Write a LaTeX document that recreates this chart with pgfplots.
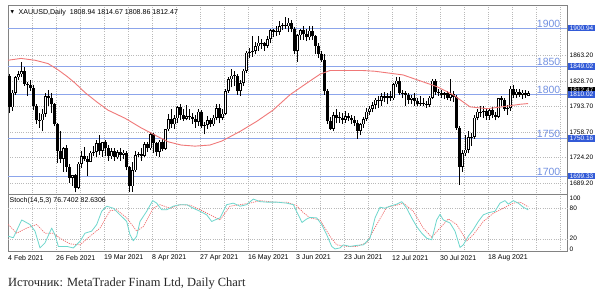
\documentclass[border=0pt]{standalone}
\usepackage{pgfplots}
\pgfplotsset{compat=1.18}
\usepackage{pgfplotstable}
\usetikzlibrary{backgrounds}
\usepackage{fontspec}
\setmainfont{Liberation Sans}
\newfontfamily\seriffont{Liberation Serif}
\newfontfamily\symfont{DejaVu Sans}
\newcommand\fs[1]{\fontsize{#1}{#1}\selectfont}
\definecolor{hblue}{RGB}{140,165,235}
\definecolor{lblue}{RGB}{115,145,225}
\definecolor{boxblue}{RGB}{50,90,215}
\definecolor{gridc}{RGB}{185,185,185}
\definecolor{framec}{RGB}{130,130,130}
\definecolor{mared}{RGB}{240,120,120}
\definecolor{stk}{RGB}{110,215,205}
\definecolor{std}{RGB}{240,110,110}

\pgfplotstableread{
i O H L C
0 1835 1838 1785 1793
1 1793 1816 1788 1813
2 1813 1836 1810 1834
3 1834 1843 1830 1838
4 1838 1855 1834 1842
5 1842 1848 1822 1825
6 1825 1828 1808 1823
7 1823 1830 1815 1819
8 1819 1823 1789 1795
9 1795 1798 1770 1775
10 1775 1785 1765 1775.5
11 1775 1790 1760 1784
12 1784 1813 1780 1808
13 1808 1816 1795 1806
14 1806 1812 1785 1797
15 1797 1799 1767 1770
16 1770 1772 1717 1733
17 1733 1760 1717 1723
18 1723 1739 1705 1737
19 1737 1741 1705 1712
20 1712 1716 1690 1697
21 1697 1701 1686 1700
22 1700 1702 1677 1683
23 1683 1718 1681 1716
24 1716 1733 1710 1726
25 1726 1739 1720 1722
26 1722 1727 1699 1719
27 1719 1734 1718 1731
28 1731 1740 1727 1732
29 1732 1748 1725 1744
30 1744 1755 1728 1734
31 1734 1746 1725 1745
32 1745 1748 1726 1737
33 1737 1742 1720 1726
34 1726 1738 1723 1733
35 1733 1737 1720 1725
36 1725 1735 1722 1732
37 1732 1738 1720 1728
38 1728 1735 1722 1731
39 1731 1734 1707 1711
40 1711 1713 1677 1685
41 1685 1718 1678 1707
42 1707 1733 1705 1728
43 1728 1732 1725 1729
44 1729 1738 1720 1727
45 1727 1746 1725 1743
46 1743 1745 1732 1737
47 1737 1759 1735 1756
48 1756 1758 1730 1744
49 1744 1746 1727 1732
50 1732 1748 1725 1746
51 1746 1750 1733 1736
52 1736 1764 1735 1763
53 1763 1784 1760 1777
54 1777 1790 1765 1770
55 1770 1783 1764 1778
56 1778 1794 1771 1793
57 1793 1798 1776 1783
58 1783 1790 1774 1777
59 1777 1796 1775 1781
60 1781 1790 1776 1780
61 1780 1785 1770 1777
62 1777 1783 1765 1773
63 1773 1790 1768 1787
64 1787 1789 1765 1768
65 1768 1773 1756 1769
66 1769 1781 1764 1775
67 1775 1779 1766 1770
68 1770 1782 1768 1779
69 1779 1798 1775 1792
70 1792 1798 1771 1779
71 1779 1790 1775 1784
72 1784 1818 1782 1815
73 1815 1834 1813 1831
74 1831 1845 1820 1836
75 1836 1843 1822 1836.5
76 1836 1838 1810 1815
77 1815 1830 1808 1826
78 1826 1845 1822 1843
79 1843 1869 1840 1867
80 1867 1874 1860 1868
81 1868 1890 1862 1870
82 1870 1882 1865 1876
83 1876 1890 1870 1881
84 1881 1886 1872 1880
85 1880 1882 1870 1877
86 1877 1890 1874 1886
87 1886 1900 1880 1898
88 1898 1900 1888 1896
89 1896 1903 1890 1896.5
90 1896 1910 1892 1903
91 1903 1908 1898 1905
92 1905 1916 1900 1903
93 1903 1914 1896 1908
94 1908 1912 1895 1900
95 1900 1902 1865 1870
96 1870 1893 1855 1891
97 1891 1900 1885 1898
98 1898 1903 1885 1893
99 1893 1900 1883 1888
100 1888 1903 1884 1897
101 1897 1903 1885 1890
102 1890 1892 1866 1877
103 1877 1880 1860 1866
104 1866 1870 1855 1858
105 1858 1865 1810 1815
106 1815 1818 1770 1774
107 1774 1780 1762 1764
108 1764 1786 1760 1782
109 1782 1790 1771 1779
110 1779 1787 1772 1779.5
111 1779 1785 1770 1776
112 1776 1788 1772 1781
113 1781 1785 1774 1779
114 1779 1783 1770 1775
115 1775 1781 1768 1772
116 1772 1775 1750 1761
117 1761 1772 1755 1770
118 1770 1780 1765 1777
119 1777 1792 1774 1787
120 1787 1795 1783 1791
121 1791 1800 1786 1796
122 1796 1805 1790 1803
123 1803 1808 1792 1802
124 1802 1812 1795 1808
125 1808 1814 1800 1806
126 1806 1812 1797 1808
127 1808 1815 1802 1805
128 1805 1826 1803 1824
129 1824 1834 1820 1829
130 1829 1834 1810 1812
131 1812 1816 1805 1812.5
132 1812 1815 1795 1810
133 1810 1812 1797 1803
134 1803 1810 1798 1806
135 1806 1812 1795 1802
136 1802 1806 1794 1797
137 1797 1808 1795 1799
138 1799 1805 1794 1798
139 1798 1802 1792 1796
140 1796 1808 1793 1806
141 1806 1832 1804 1829
142 1829 1832 1810 1814
143 1814 1818 1808 1813
144 1813 1816 1805 1810
145 1810 1814 1804 1812
146 1812 1815 1803 1806
147 1806 1832 1802 1811
148 1811 1815 1800 1807
149 1807 1810 1762 1765
150 1765 1767 1687 1712
151 1712 1735 1705 1730
152 1730 1755 1726 1735
153 1735 1760 1730 1752
154 1752 1758 1740 1753
155 1753 1782 1750 1779
156 1779 1790 1775 1787
157 1787 1795 1780 1786
158 1786 1794 1778 1788
159 1788 1792 1776 1781
160 1781 1790 1776 1789
161 1789 1793 1778 1782
162 1782 1786 1775 1780
163 1780 1806 1778 1805
164 1805 1808 1795 1803
165 1803 1806 1788 1791
166 1791 1796 1783 1792
167 1792 1822 1788 1818
168 1818 1823 1805 1810
169 1810 1818 1806 1814
170 1814 1818 1807 1810
171 1810 1816 1804 1813
172 1813 1816 1806 1809
173 1808.94 1814.67 1808.86 1812.47
}\candles

\pgfplotstableread{
x y
8 1857
21 1859.5
35 1857
48 1852.5
58 1844
67 1835
75 1826
85 1813
97 1800
108 1789
125 1778
141 1765
155 1755
168 1746
181 1741.5
195 1740
210 1741.5
222 1747
240 1760
257 1774
273 1789
290 1810
307 1826
320 1838
330 1843
363 1843
375 1842
403 1837
437 1821
453 1810
470 1793.5
487 1791
503 1793.7
520 1797
528 1798
}\ma

\pgfplotstableread{
x y
8.3 25
13.3 22
21.7 57
30 48
35 35
40 2
45 12
51.7 41
55 28
58.3 5
66.7 5
73.3 2
80 15
85 31
91.7 35
96.7 48
101.7 74
106.7 84
113.3 80
120 67
126.7 54
130 28
133.3 16
136.7 25
140 54
146.7 74
152.7 95
156.7 90
161.7 77
166.7 77
173.3 84
180 87
186.7 87
193.3 80
200 74
206.7 67
211.7 54
215 57
220 61
226.7 87
233.3 90
240 84
246.7 87
253.3 98
260 93
266.7 92
276.7 92
286.7 90
293.3 87
298.3 67
302 52
306 58
310 62
316.7 61
321.7 48
326.7 28
331.7 5
335 0
340 2
343.3 8
350 5
356.7 7
363.3 8
370 21
375 61
380 82
385 80
390 84
396.7 88
401.7 93
406.7 80
411.7 61
416.7 44
421.7 31
426.7 21
431.7 18
436.7 57
440 68
443.3 57
450 51
455 35
460 3
463.3 8
468.3 25
473.3 38
478.3 54
483.3 67
488.3 71
495 74
500 90
505 95
508.3 88
513.3 95
518.3 90
523.3 82
528.3 76.74
}\stochk

\pgfplotstableread{
x y
8.3 48
16.7 31
26.7 41
36.7 48
45 31
53.3 31
60 21
70 10
80 8
90 25
100 41
110 75
116.7 77
126.7 61
136.7 35
143.3 44
153.3 80
160 87
170 80
180 87
190 86
200 77
213.3 64
220 57
230 84
240 87
250 90
260 95
273.3 92
286.7 92
296.7 85
303 72
310 61
320 57
330 25
336.7 8
346.7 5
356.7 5
366.7 12
376.7 48
386.7 82
396.7 86
403.3 90
413.3 74
423.3 41
431.7 23
440 41
448.3 59
456.7 48
466.7 16
473.3 28
483.3 54
493.3 70
503.3 80
513.3 90
520 92
528.3 82.63
}\stochd

\begin{document}
\begin{tikzpicture}

% ---------------- main price panel ----------------
\begin{axis}[
  name=main,
  at={(8bp,103bp)}, anchor=south west, scale only axis,
  width=559bp, height=189bp,
  xmin=8, xmax=567, ymin=1673.42, ymax=1930.91,
  xtick={8,32,...,560}, xticklabels={},
  ytick={1689.2,1724.2,1758.7,1793.7,1828.7,1863.2},
  yticklabels={1689.20,1724.20,1758.70,1793.70,1828.70,1863.20},
  yticklabel pos=right,
  yticklabel style={font=\fs{6.5}, anchor=west, inner sep=0pt, xshift=2.5bp},
  xmajorgrids, ymajorgrids,
  grid style={gridc, dash pattern=on 0.8bp off 1.4bp, line width=0.5bp},
  axis line style={framec, line width=1bp},
  tick style={draw=none},
  clip=false,
]
% horizontal level lines
\addplot[hblue, line width=0.8bp, forget plot] coordinates {(8,1900.94) (567,1900.94)};
\addplot[hblue, line width=0.8bp, forget plot] coordinates {(8,1849.02) (567,1849.02)};
\addplot[hblue, line width=0.8bp, forget plot] coordinates {(8,1810.02) (567,1810.02)};
\addplot[hblue, line width=0.8bp, forget plot] coordinates {(8,1750.16) (567,1750.16)};
\addplot[hblue, line width=0.8bp, forget plot] coordinates {(8,1699.33) (567,1699.33)};
% wicks
\addplot[draw=none, forget plot,
  error bars/.cd, y dir=plus, y explicit, error mark=none,
  error bar style={draw=black, line width=0.6bp}]
  table[x expr=9.5+3*\thisrow{i}, y=L, y error plus expr=\thisrow{H}-\thisrow{L}] {\candles};
% bodies (outline / bear fill)
\addplot[draw=none, forget plot,
  error bars/.cd, y dir=plus, y explicit, error mark=none,
  error bar style={draw=black, line width=2.2bp}]
  table[x expr=9.5+3*\thisrow{i}, y expr={min(\thisrow{O},\thisrow{C})},
        y error plus expr={max(abs(\thisrow{C}-\thisrow{O}),0.7)}] {\candles};
% bull bodies white inside
\addplot[draw=none, forget plot,
  error bars/.cd, y dir=plus, y explicit, error mark=none,
  error bar style={draw=white, line width=1.0bp}]
  table[x expr=9.5+3*\thisrow{i},
        y expr={\thisrow{C}>\thisrow{O}+2 ? \thisrow{O}+0.8 : nan},
        y error plus expr={\thisrow{C}-\thisrow{O}-1.6}] {\candles};
% moving average
\addplot[mared, line width=0.9bp, line join=round, forget plot] table[x=x, y=y] {\ma};

% level captions
\foreach \v/\t in {1900.94/1900, 1849.02/1850, 1810.02/1800, 1750.16/1750, 1699.33/1700} {
  \edef\tmp{\noexpand\node[anchor=south east, inner sep=0.6bp, text=lblue, font=\noexpand\fs{10.5}] at (axis cs:561,\v) {\t};}
  \tmp
}
\coordinate (b1) at (axis cs:567,1900.94);
\coordinate (b2) at (axis cs:567,1849.02);
\coordinate (b3) at (axis cs:567,1810.02);
\coordinate (b4) at (axis cs:567,1750.16);
\coordinate (b5) at (axis cs:567,1699.33);
\coordinate (bk) at (axis cs:567,1812.47);
\end{axis}

% price boxes
\tikzset{pbox/.style={anchor=west, inner xsep=1.6bp, inner ysep=0.9bp, font=\fs{6.5}, text=white, xshift=1bp, text height=4.7bp, text depth=0.3bp}}
\node[pbox, fill=black, yshift=2.2bp] at (bk) {1812.47};
\node[pbox, fill=boxblue] at (b1) {1900.94};
\node[pbox, fill=boxblue] at (b2) {1849.02};
\node[pbox, fill=boxblue] at (b3) {1810.02};
\node[pbox, fill=boxblue] at (b4) {1750.16};
\node[pbox, fill=boxblue] at (b5) {1699.33};

% header
\node[anchor=center, inner sep=0pt, font=\symfont\fs{4.5}] at ([shift={(4.3bp,-6.4bp)}]main.north west) {▼};
\node[anchor=west, inner sep=0pt, font=\fs{7.1}] at ([shift={(10.5bp,-6.5bp)}]main.north west) {XAUUSD,Daily\hspace{4bp}1808.94 1814.67 1808.86 1812.47};

% ---------------- stochastic panel ----------------
\begin{axis}[
  name=stoch,
  at={([yshift=-2bp]main.south west)}, anchor=north west, scale only axis,
  width=559bp, height=57bp,
  xmin=8, xmax=567, ymin=-6, ymax=106,
  xtick={8,32,...,560},
  xticklabels={4 Feb 2021,,26 Feb 2021,,19 Mar 2021,,8 Apr 2021,,27 Apr 2021,,16 May 2021,,3 Jun 2021,,23 Jun 2021,,12 Jul 2021,,30 Jul 2021,,18 Aug 2021,,},
  xticklabel style={font=\fs{7}, anchor=north west, inner sep=0pt, yshift=-2.8bp},
  xmajorgrids,
  ytick={0,100}, yticklabels={0,100},
  extra y ticks={20,80}, extra y tick labels={20,80},
  extra y tick style={grid=major},
  yticklabel pos=right,
  yticklabel style={font=\fs{6.5}, anchor=west, inner sep=0pt, xshift=2.5bp},
  grid style={gridc, dash pattern=on 0.8bp off 1.4bp, line width=0.5bp},
  axis line style={framec, line width=1bp},
  tick style={draw=none},
  clip=false,
]
\addplot[std, line width=0.7bp, dash pattern=on 1.2bp off 1bp, forget plot] table[x=x,y=y] {\stochd};
\addplot[stk, line width=0.8bp, line join=round, forget plot] table[x=x,y=y] {\stochk};
\end{axis}
\node[anchor=west, inner sep=0pt, font=\fs{7}] at ([shift={(1.5bp,-6bp)}]stoch.north west) {Stoch(14,5,3) 76.7402 82.6306};

% source line
\node[anchor=west, inner sep=0pt, font=\seriffont\fs{12.5}, text=black!85] at ([shift={(0bp,-32bp)}]stoch.south west) {Источник: MetaTrader Finam Ltd, Daily Chart};

% page frame
\pgfresetboundingbox
\useasboundingbox ([shift={(-8bp,-103bp)}]main.south west) rectangle ([shift={(592bp,195bp)}]main.south west);
\begin{scope}[on background layer]
\fill[white] ([shift={(-8bp,-103bp)}]main.south west) rectangle ([shift={(592bp,195bp)}]main.south west);
\end{scope}
\end{tikzpicture}
\end{document}
